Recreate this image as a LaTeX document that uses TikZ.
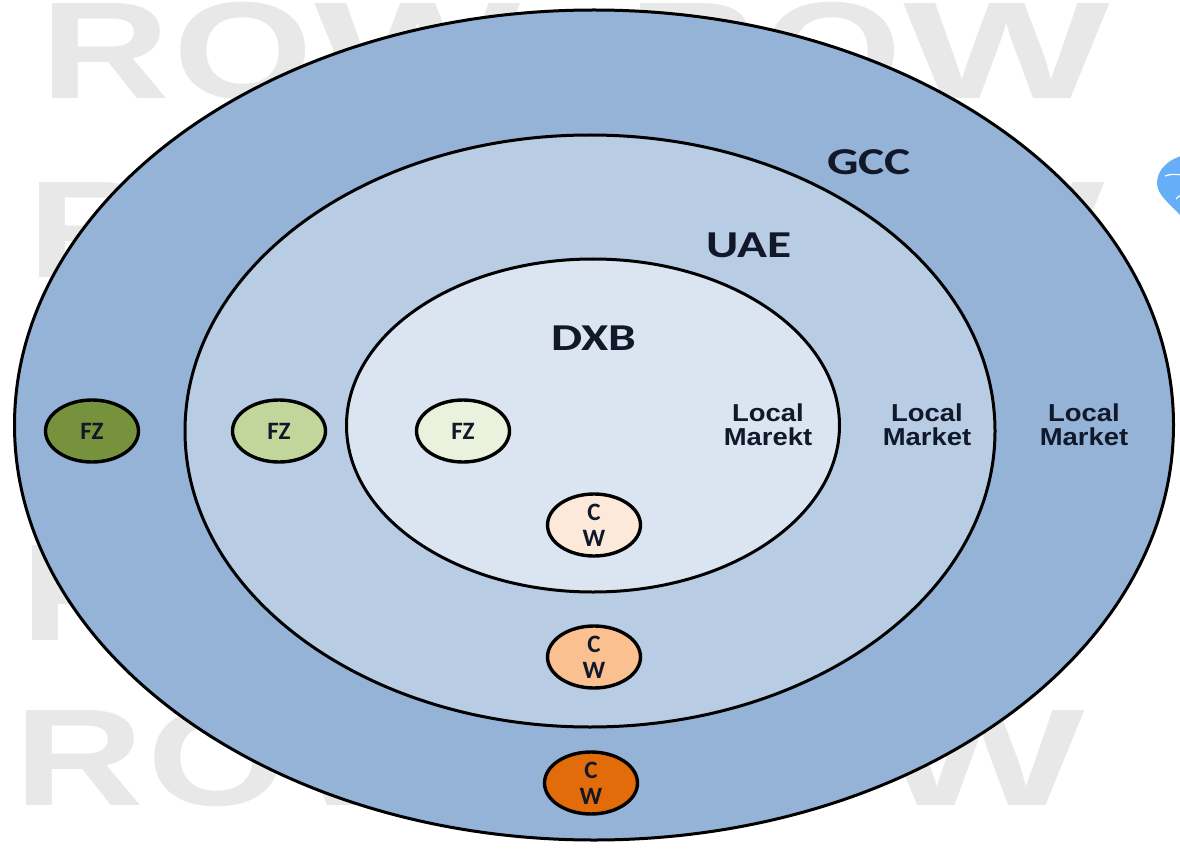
\documentclass[tikz,border=0pt]{standalone}
\usepackage{fontspec}
\setmainfont{Liberation Sans}
\newfontfamily\lblfont{Carlito}
\usetikzlibrary{shapes.geometric}
\definecolor{wmgray}{HTML}{E8E8E8}
\definecolor{ringa}{HTML}{95B3D7}
\definecolor{ringb}{HTML}{B8CCE4}
\definecolor{ringc}{HTML}{DBE5F1}
\definecolor{fza}{HTML}{76923C}
\definecolor{fzb}{HTML}{C2D69B}
\definecolor{fzc}{HTML}{EAF1DD}
\definecolor{cwa}{HTML}{E36C0A}
\definecolor{cwb}{HTML}{FAC090}
\definecolor{cwc}{HTML}{FDE9D9}
\definecolor{inkc}{HTML}{10182A}
\definecolor{blob}{HTML}{66AEF5}
\newcommand{\wmword}{R\kern3pt O\kern1pt\scalebox{1.22}[1]{W}}
\tikzset{
  x=1pt,y=-1pt,
  wm/.style={text=wmgray,inner sep=0pt,font=\bfseries\fontsize{138}{138}\selectfont,xscale=1.3},
  ring/.style={ellipse,draw=black,line width=3pt,inner sep=0pt},
  dot/.style={ellipse,draw=black,line width=3.4pt,inner sep=0pt,minimum width=93pt,minimum height=62pt,text=inkc,align=center,font=\lblfont\bfseries\fontsize{25}{26}\selectfont},
  big/.style={inner sep=0pt,text=inkc,font=\lblfont\bfseries\fontsize{38}{38}\selectfont,xscale=1.3},
  lm/.style={inner sep=0pt,text=inkc,align=center,font=\bfseries\fontsize{24.5}{24}\selectfont,xscale=1.12},
}
\begin{document}
\begin{tikzpicture}
\clip (0,0) rectangle (1180,850);
\fill[white] (0,0) rectangle (1180,850);
% watermark
\node[wm,anchor=base west] (w1) at (40,99) {\wmword};
\node[wm,anchor=base east] (w2) at (1110,99) {\wmword};
\node[wm,anchor=base west] (w3) at (27,278) {\wmword};
\node[wm,anchor=base east] (w4) at (1105,278) {\wmword};
\node[wm,anchor=base west] (w5) at (20,640) {\wmword};
\node[wm,anchor=base west] (w6) at (14,805) {\wmword};
\node[wm,anchor=base east] (w7) at (1085,805) {\wmword};
% blob at the right edge
\fill[blob] (1185,155) .. controls (1168,159) and (1157,170) .. (1157,183) .. controls (1157,195) and (1170,204) .. (1180,215) -- (1185,215) -- cycle;
\draw[white,line width=1.2pt] (1165,176) .. controls (1170,174) and (1176,174) .. (1182,175);
\draw[white,line width=1.2pt] (1176,199) .. controls (1177,197) and (1179,196) .. (1182,195);
% rings
\node[ring,fill=ringa,minimum width=1159pt,minimum height=830pt] (gcc) at (594,425) {};
\node[ring,fill=ringb,minimum width=810pt,minimum height=592pt] (uae) at (590,431) {};
\node[ring,fill=ringc,minimum width=493pt,minimum height=333pt] (dxb) at (593,425.5) {};
% small circles
\node[dot,fill=fza] (fz1) at (92,431) {FZ};
\node[dot,fill=fzb] (fz2) at (279,431) {FZ};
\node[dot,fill=fzc] (fz3) at (463,431) {FZ};
\node[dot,fill=cwc] (cw1) at (594,525) {C\\W};
\node[dot,fill=cwb] (cw2) at (594,657) {C\\W};
\node[dot,fill=cwa] (cw3) at (591,783) {C\\W};
% labels
\node[big] (lgcc) at (869,162) {GCC};
\node[big] (luae) at (749,245) {UAE};
\node[big] (ldxb) at (594,338) {DXB};
\node[lm] (lm1) at (768,425) {Local\\Marekt};
\node[lm] (lm2) at (927,425) {Local\\Market};
\node[lm] (lm3) at (1084,425) {Local\\Market};
\end{tikzpicture}
\end{document}
